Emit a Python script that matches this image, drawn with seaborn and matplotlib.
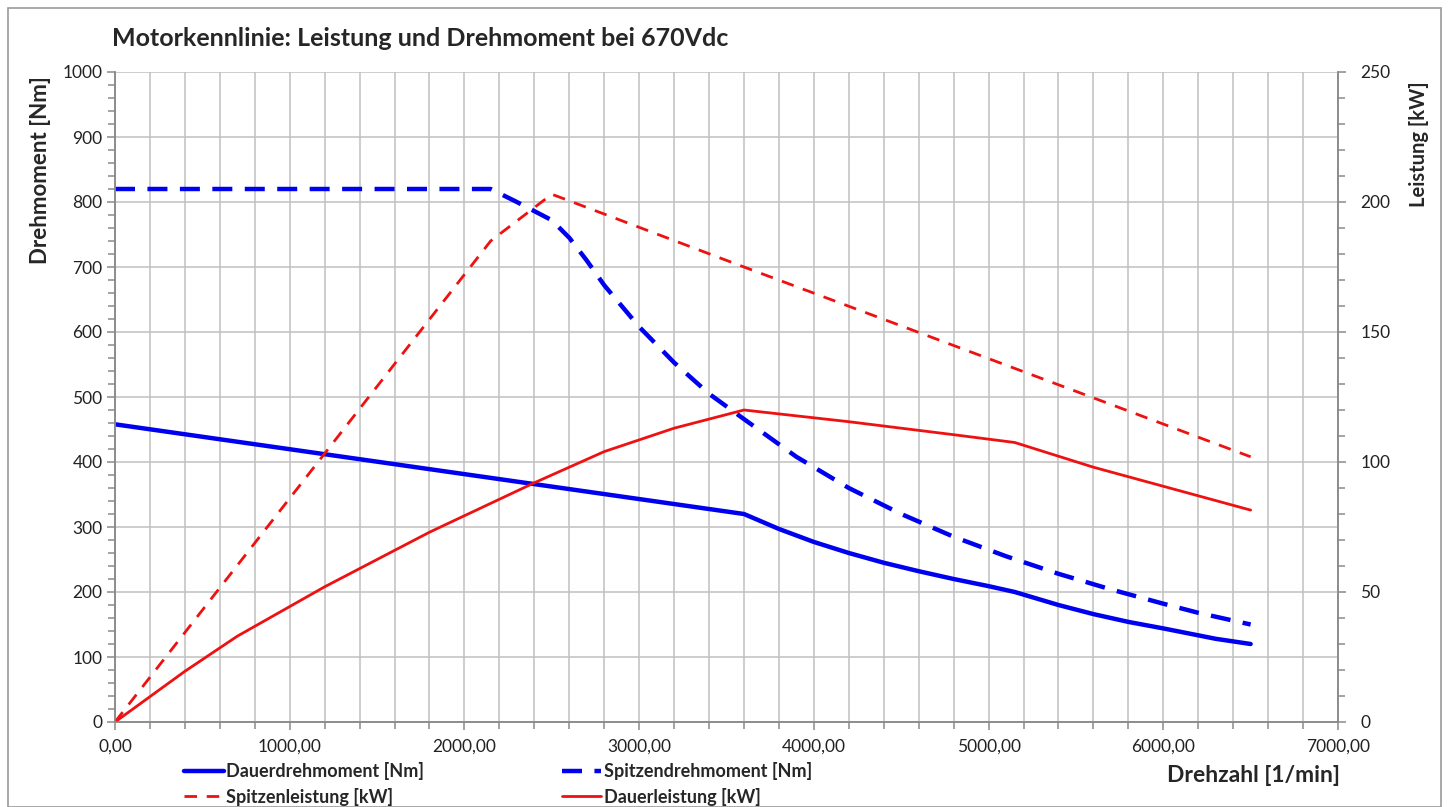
import matplotlib
matplotlib.use("Agg")
import matplotlib.pyplot as plt
import seaborn as sns
from matplotlib.ticker import MultipleLocator, FuncFormatter
from matplotlib.patches import Rectangle

# ---- data ----
rpm_dd = [0, 3600, 3800, 4000, 4200, 4400, 4600, 4800, 5000, 5150, 5400, 5600, 5800, 6000, 6300, 6500]
dauerdrehmoment = [458, 320, 297, 277, 260, 245, 232, 220, 209, 200, 180, 166, 154, 144, 128, 120]

rpm_sd = [0, 2150, 2300, 2500, 2600, 2700, 2800, 3000, 3200, 3400, 3600, 3900, 4200,
          4500, 4800, 5100, 5400, 5700, 6000, 6200, 6500]
spitzendrehmoment = [820, 820, 800, 772, 745, 710, 672, 608, 553, 505, 466, 408, 360,
                     320, 285, 255, 228, 204, 182, 168, 150]

rpm_sl = [0, 2150, 2500, 3600, 5150, 6500]
spitzenleistung = [0, 185, 203, 175, 136, 102]

rpm_dl = [0, 400, 700, 1200, 1800, 2400, 2800, 3200, 3600, 4200, 4800, 5150, 5600, 6200, 6500]
dauerleistung = [0, 19.5, 33, 52, 73, 92, 104, 113, 120, 115.5, 110.5, 107.5, 98, 87, 81.5]

title = "Motorkennlinie: Leistung und Drehmoment bei 670Vdc"
labels = ["Dauerdrehmoment [Nm]", "Spitzendrehmoment [Nm]",
          "Spitzenleistung [kW]", "Dauerleistung [kW]"]

# ---- style ----
sns.set_style("white")
plt.rcParams["font.family"] = ["Lato", "DejaVu Sans"]

BLUE = "#0000f0"
RED = "#ee1111"
GRID = "#c0c0c0"
SPINE = "#8a8a8a"

fig = plt.figure(figsize=(14.49, 8.07), dpi=100)
ax = fig.add_axes([115/1449, 1-722/807, (1338-115)/1449, (722-72)/807])
ax2 = ax.twinx()

sns.lineplot(x=rpm_dd, y=dauerdrehmoment, ax=ax, color=BLUE, lw=3.2, label=labels[0], legend=False)
sns.lineplot(x=rpm_sd, y=spitzendrehmoment, ax=ax, color=BLUE, lw=3.2, label=labels[1], legend=False)
ax.lines[-1].set_dashes((4.5, 2.8))
sns.lineplot(x=rpm_sl, y=spitzenleistung, ax=ax2, color=RED, lw=2.0, label=labels[2], legend=False)
ax2.lines[-1].set_dashes((4.5, 3.5))
sns.lineplot(x=rpm_dl, y=dauerleistung, ax=ax2, color=RED, lw=2.0, label=labels[3], legend=False)

ax.set_xlim(0, 7000)
ax.set_ylim(0, 1000)
ax2.set_ylim(0, 250)

ax.xaxis.set_major_locator(MultipleLocator(1000))
ax.xaxis.set_minor_locator(MultipleLocator(200))
ax.yaxis.set_major_locator(MultipleLocator(100))
ax.yaxis.set_minor_locator(MultipleLocator(20))
ax2.yaxis.set_major_locator(MultipleLocator(50))
ax2.yaxis.set_minor_locator(MultipleLocator(10))
ax.xaxis.set_major_formatter(FuncFormatter(lambda v, p: f"{v:.2f}".replace(".", ",")))

ax.grid(True, which="major", axis="y", color=GRID, lw=1.1)
ax.grid(True, which="both", axis="x", color=GRID, lw=1.1)
ax.set_axisbelow(True)

for a in (ax, ax2):
    for s in a.spines.values():
        s.set_color(SPINE)
        s.set_linewidth(1.1)
    a.spines["top"].set_visible(False)
ax.tick_params(axis="both", which="both", direction="out", color=SPINE, width=1.1,
               labelsize=12.5, labelcolor="#222222")
ax.tick_params(axis="both", which="major", length=6, pad=3)
ax.tick_params(axis="both", which="minor", length=5)
ax.tick_params(axis="x", which="major", pad=6)
ax.tick_params(left=True, bottom=True, which="both")
ax2.tick_params(axis="y", which="both", direction="out", color=SPINE, width=1.1,
                labelsize=12.5, labelcolor="#222222", right=True)
ax2.tick_params(axis="y", which="major", length=6, pad=10)
ax2.tick_params(axis="y", which="minor", length=5)

ax.set_xlabel("")
ax.set_ylabel("Drehmoment [Nm]", fontsize=16, fontweight="bold")
ax2.set_ylabel("Leistung [kW]", fontsize=14.5, fontweight="bold")
ax.yaxis.set_label_coords(-0.0525, 0.849)
ax2.yaxis.set_label_coords(1.058, 0.889)

fig.text(112/1449, 1-38/807, title, fontsize=18, fontweight="bold", ha="left", va="center")
fig.text(1340/1449, 1-775/807, "Drehzahl [1/min]", fontsize=16.5, fontweight="bold",
         ha="right", va="center")

h1, l1 = ax.get_legend_handles_labels()
h2, l2 = ax2.get_legend_handles_labels()
handles = [h1[0], h2[0], h1[1], h2[1]]
labs = [l1[0], l2[0], l1[1], l2[1]]
leg = fig.legend(handles, labs, ncol=2, loc="center left",
                 bbox_to_anchor=(184/1449, 1-784/807), frameon=False,
                 prop={"size": 13, "weight": "bold"}, handlelength=2.2,
                 handletextpad=0.15, columnspacing=7.6, labelspacing=0.4,
                 borderpad=0, borderaxespad=0)

fig.patches.append(Rectangle((8/1449, 0), 1-16/1449, 1-8/807, transform=fig.transFigure,
                             fill=False, edgecolor="#9a9a9a", lw=1.2))

fig.savefig("out.png", dpi=100)
